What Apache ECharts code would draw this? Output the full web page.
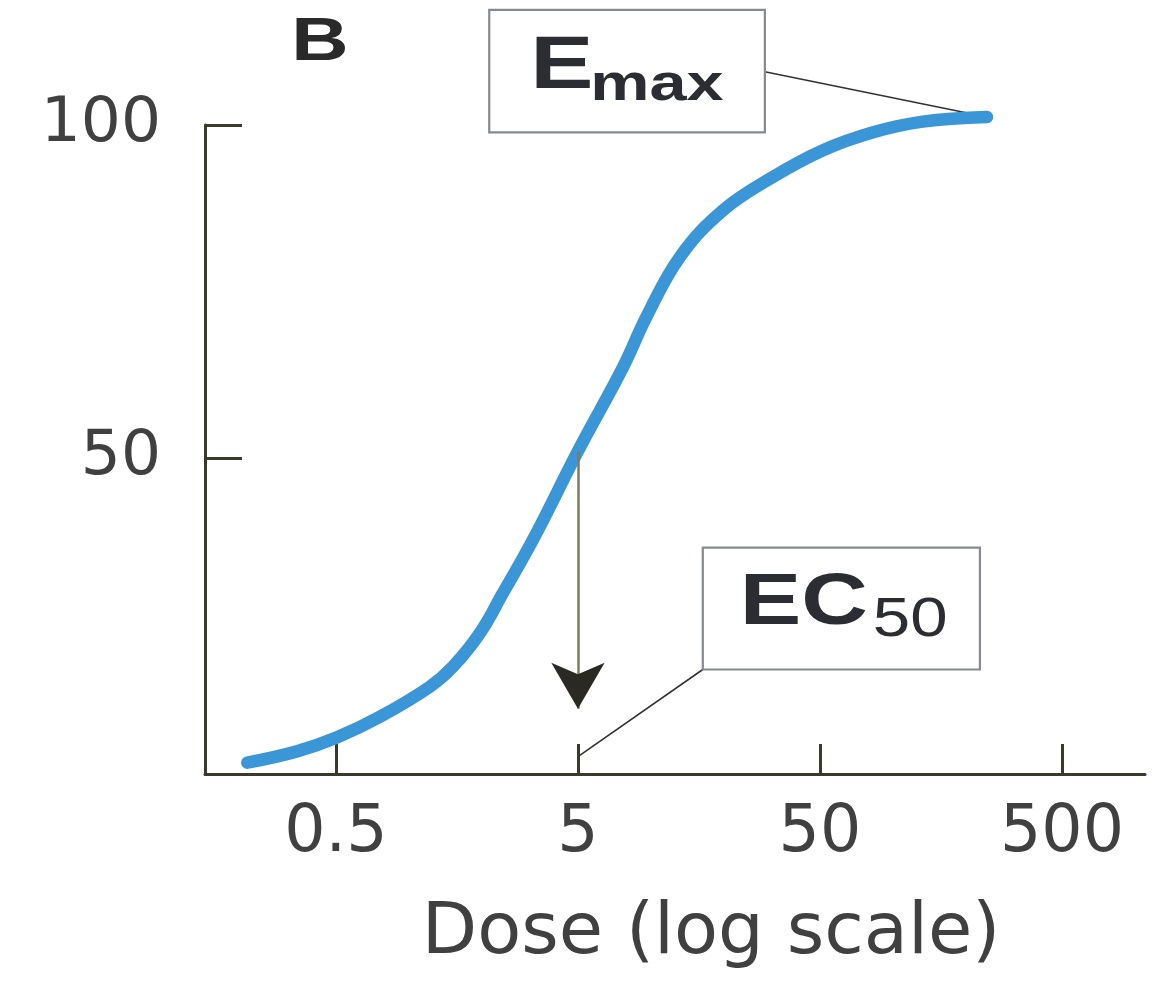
<!DOCTYPE html>
<html><head><meta charset="utf-8">
<script src="https://cdn.jsdelivr.net/npm/echarts@6/dist/echarts.min.js"></script>
<style>html,body{margin:0;padding:0;background:#fff}#c{width:1156px;height:985px}</style>
</head><body><div id="c"></div>
<script>
// ---- data (dose in original units, response in %) ----
const doses     = [0.215, 0.345, 0.505, 0.76, 1.22, 1.52, 1.97, 2.45, 3.26, 5.0, 7.7, 9.6, 13.2, 19.9, 32, 51.5, 83, 133, 245];
const responses = [4.2,   5.9,   8.0,   11.1, 15.6, 18.6, 23.7, 29.7, 37.7, 51,  63.7, 71.2, 80.2, 87.2, 92.2, 96.2, 98.9, 100.5, 101.2];
const xTickDoses  = [0.5, 5, 50, 500];
const xTickLabels = ['0.5', '5', '50', '500'];
const yTickValues = [50, 100];
const yTickLabels = ['50', '100'];
const xAxisName = 'Dose (log scale)';
const panelLabel = 'B';
const ec50Dose = 5;
const ec50Level = 51;
const arrowHeadLevel = 12.3;
// annotation boxes: [doseLeft, doseRight, levelTop, levelBottom]
const emaxBox = [2.15, 29.6, 117.3, 98.9];
const ec50Box = [16.4, 229, 36.5, 18.2];
const emaxLinkStart = [29.6, 108];
const ec50LinkEnd = [5, 5.1];

const log = v => Math.log10(v);
const xTickLogs = xTickDoses.map(log);
const curve = doses.map((d, i) => [log(d), responses[i]]);

const axisColor = '#3b382c';
const textColor = '#404040';

const chart = echarts.init(document.getElementById('c'), null, {renderer: 'canvas'});
const option = {
  backgroundColor: '#ffffff',
  animation: false,
  grid: {left: 205, right: 11, top: 125, bottom: 211, containLabel: false},
  xAxis: {
    type: 'value', min: -0.842, max: 3.042,
    splitLine: {show: false},
    axisLine: {onZero: false, lineStyle: {color: axisColor, width: 3}},
    axisTick: {show: true, inside: true, length: 30, lineStyle: {color: axisColor, width: 3}, customValues: xTickLogs},
    axisLabel: {
      customValues: xTickLogs, margin: 28,
      fontFamily: 'DejaVu Sans', fontSize: 65, color: textColor,
      formatter: v => { const i = xTickLogs.findIndex(t => Math.abs(t - v) < 1e-6); return i >= 0 ? xTickLabels[i] : ''; }
    },
    name: xAxisName, nameLocation: 'middle', nameGap: 124,
    nameTextStyle: {fontFamily: 'DejaVu Sans', fontSize: 72, color: textColor, padding: [0, 0, 0, 72]}
  },
  yAxis: {
    type: 'value', min: 2.5, max: 100,
    splitLine: {show: false},
    axisLine: {show: true, onZero: false, lineStyle: {color: axisColor, width: 3}},
    axisTick: {show: true, inside: true, length: 37, lineStyle: {color: axisColor, width: 3}, customValues: yTickValues},
    axisLabel: {
      customValues: yTickValues, margin: 44,
      fontFamily: 'DejaVu Sans', fontSize: 63, color: textColor, padding: [6, 0, 0, 0],
      formatter: v => { const i = yTickValues.indexOf(v); return i >= 0 ? yTickLabels[i] : ''; }
    }
  },
  series: [{
    type: 'line', data: curve, smooth: 0.4,
    showSymbol: false, symbol: 'none', clip: false, silent: true,
    lineStyle: {color: '#3a96d6', width: 12.5, cap: 'round', join: 'round'},
    markLine: {
      silent: true, symbol: ['none', 'none'], animation: false,
      label: {show: false},
      lineStyle: {color: '#7c7a62', width: 2.5, type: 'solid'},
      data: [[{coord: [log(ec50Dose), ec50Level]}, {coord: [log(ec50Dose), arrowHeadLevel]}]]
    },
    markPoint: {
      silent: true, animation: false,
      symbol: 'arrow', symbolSize: [40, 46], symbolRotate: 180,
      itemStyle: {color: '#2b2a22'}, label: {show: false},
      data: [{coord: [log(ec50Dose), arrowHeadLevel]}]
    }
  }]
};
chart.setOption(option);

function px(dose, level) { return chart.convertToPixel({gridIndex: 0}, [log(dose), level]); }

function boxRect(b) {
  const p1 = px(b[0], b[2]), p2 = px(b[1], b[3]);
  return {x: p1[0], y: p1[1], w: p2[0] - p1[0], h: p2[1] - p1[1]};
}
const eb = boxRect(emaxBox), cb = boxRect(ec50Box);
const eLinkA = px(emaxLinkStart[0], emaxLinkStart[1]);
const eLinkB = px(doses[doses.length - 1], responses[responses.length - 1]);
const cLinkA = [cb.x, cb.y + cb.h];
const cLinkB = px(ec50LinkEnd[0], ec50LinkEnd[1]);
const boxTextColor = '#2c2c33';
const sx = 1.28;

chart.setOption({
  graphic: [
    {type: 'line', silent: true, shape: {x1: eLinkA[0], y1: eLinkA[1], x2: eLinkB[0], y2: eLinkB[1]}, style: {stroke: '#333', lineWidth: 1.6}},
    {type: 'line', silent: true, shape: {x1: cLinkA[0], y1: cLinkA[1], x2: cLinkB[0], y2: cLinkB[1]}, style: {stroke: '#333', lineWidth: 1.6}},
    {type: 'rect', silent: true, shape: {x: eb.x, y: eb.y, width: eb.w, height: eb.h}, style: {fill: '#fff', stroke: '#868a90', lineWidth: 2.2}},
    {type: 'rect', silent: true, shape: {x: cb.x, y: cb.y, width: cb.w, height: cb.h}, style: {fill: '#fff', stroke: '#868a90', lineWidth: 2.2}},
    {type: 'text', silent: true, x: eb.x + 41, y: eb.y + 58, scaleX: sx,
      style: {text: 'E', font: 'bold 74px "Liberation Sans", Arial, sans-serif', fill: boxTextColor, align: 'left', verticalAlign: 'middle'}},
    {type: 'text', silent: true, x: eb.x + 101, y: eb.y + 76, scaleX: sx,
      style: {text: 'max', font: 'bold 52px "Liberation Sans", Arial, sans-serif', fill: boxTextColor, align: 'left', verticalAlign: 'middle'}},
    {type: 'text', silent: true, x: cb.x + 37, y: cb.y + 56, scaleX: sx,
      style: {text: 'EC', font: 'bold 72px "Liberation Sans", Arial, sans-serif', fill: boxTextColor, align: 'left', verticalAlign: 'middle'}},
    {type: 'text', silent: true, x: cb.x + 170, y: cb.y + 73, scaleX: 1.2,
      style: {text: '50', font: '56px "Liberation Sans", Arial, sans-serif', fill: boxTextColor, align: 'left', verticalAlign: 'middle'}},
    {type: 'text', silent: true, x: 320, y: 43, scaleX: sx,
      style: {text: panelLabel, font: 'bold 62px "Liberation Sans", Arial, sans-serif', fill: '#2a2a2a', align: 'center', verticalAlign: 'middle'}}
  ]
});
</script>
</body></html>
